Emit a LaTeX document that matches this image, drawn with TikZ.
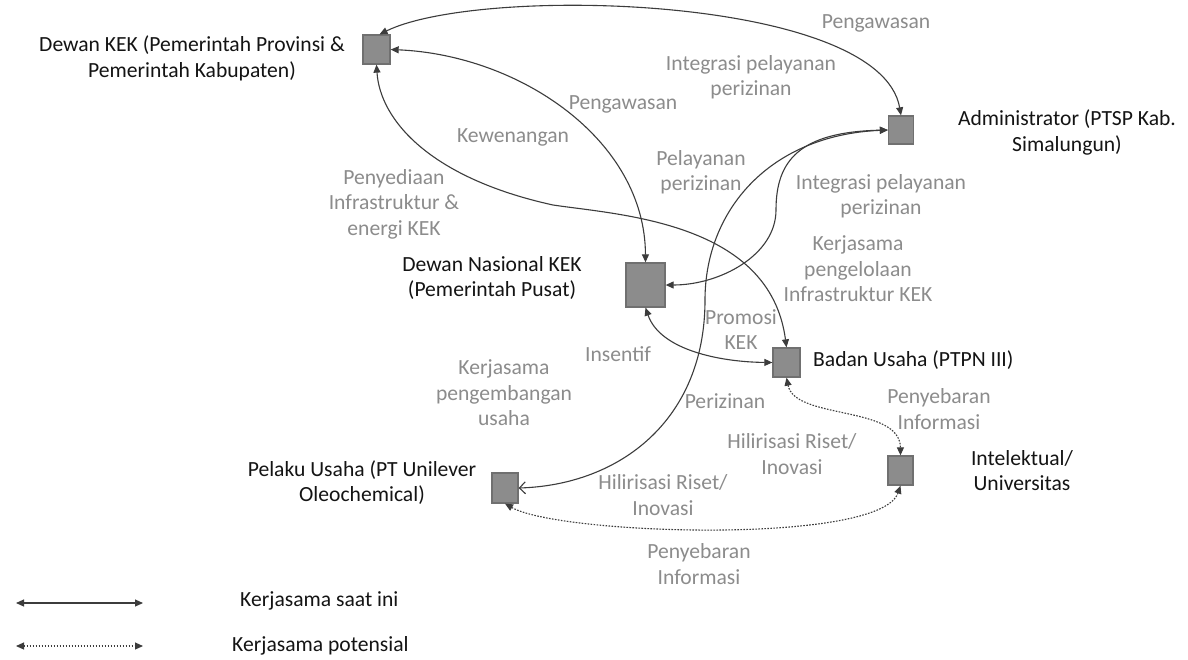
\documentclass[tikz,border=0pt]{standalone}
\usepackage{fontspec}
\setmainfont{Carlito}
\usetikzlibrary{arrows.meta}
\definecolor{boxfill}{RGB}{140,140,140}
\definecolor{boxline}{RGB}{112,112,112}
\definecolor{lbl}{RGB}{140,140,140}
\definecolor{txt}{RGB}{20,20,20}
\definecolor{conn}{RGB}{60,60,60}
\begin{document}
\begin{tikzpicture}[x=1pt,y=-1pt,
  sq/.style={draw=boxline,fill=boxfill,line width=1.3pt,inner sep=0pt},
  lab/.style={text=lbl,align=center,inner sep=0pt,font=\fontsize{21.6pt}{25.5pt}\selectfont},
  ent/.style={text=txt,align=center,inner sep=0pt,font=\fontsize{21.6pt}{25.5pt}\selectfont},
  rel/.style={draw=conn,line width=1.1pt,{Triangle[length=8pt,width=7pt]}-{Triangle[length=8pt,width=7pt]}},
  pot/.style={draw=conn,line width=1.1pt,dash pattern=on 1.6pt off 1.4pt,{Triangle[length=8pt,width=7pt]}-{Triangle[length=8pt,width=7pt]}}
]
\useasboundingbox (0,0) rectangle (1188,659);
\fill[white] (0,0) rectangle (1188,659);

% squares
\node[sq,minimum width=27pt,minimum height=29pt] (dk) at (376.5,49.5) {};
\node[sq,minimum width=25pt,minimum height=28pt] (adm) at (901,130) {};
\node[sq,minimum width=39pt,minimum height=44pt] (dn) at (645.5,285) {};
\node[sq,minimum width=27pt,minimum height=29pt] (bu) at (786.5,362.5) {};
\node[sq,minimum width=25pt,minimum height=29pt] (iu) at (900.5,470.5) {};
\node[sq,minimum width=26pt,minimum height=30pt] (pu) at (505,488) {};

% entity texts
\node[ent] (tdk) at (192,58.5) {Dewan KEK (Pemerintah Provinsi \&\\Pemerintah Kabupaten)};
\node[ent] (tadm) at (1067,132.5) {Administrator (PTSP Kab.\\Simalungun)};
\node[ent] (tdn) at (492,278) {Dewan Nasional KEK\\(Pemerintah Pusat)};
\node[ent,anchor=west] (tbu) at (813,360) {Badan Usaha (PTPN III)};
\node[ent] (tiu) at (1022,470.5) {Intelektual/\\Universitas};
\node[ent] (tpu) at (362,482.5) {Pelaku Usaha (PT Unilever\\Oleochemical)};

% gray labels
\node[lab] (l1) at (876,23) {Pengawasan};
\node[lab] (l2) at (751,77) {Integrasi pelayanan\\perizinan};
\node[lab] (l3) at (623,104) {Pengawasan};
\node[lab] (l4) at (513,137) {Kewenangan};
\node[lab] (l5) at (701,172) {Pelayanan\\perizinan};
\node[lab] (l6) at (881,196) {Integrasi pelayanan\\perizinan};
\node[lab] (l7) at (394,204) {Penyediaan\\Infrastruktur \&\\energi KEK};
\node[lab] (l8) at (858,269) {Kerjasama\\pengelolaan\\Infrastruktur KEK};
\node[lab] (l9) at (741,329.5) {Promosi\\KEK};
\node[lab] (l10) at (618,354) {Insentif};
\node[lab] (l11) at (504,393) {Kerjasama\\pengembangan\\usaha};
\node[lab] (l12) at (725,401) {Perizinan};
\node[lab] (l13) at (939,409) {Penyebaran\\Informasi};
\node[lab] (l14) at (792,454) {Hilirisasi Riset/\\Inovasi};
\node[lab] (l15) at (663,495) {Hilirisasi Riset/\\Inovasi};
\node[lab] (l16) at (699,564) {Penyebaran\\Informasi};

% connectors
\draw[rel] ([xshift=3pt]dk.north) .. controls (480,-15) and (880,-5) .. (adm.north);
\draw[rel] (dk.east) .. controls (520,55) and (645,140) .. (dn.north);
\draw[rel] (dk.south) .. controls (380,120) and (430,178) .. (553,205)
  .. controls (620,215) and (770,222) .. (bu.north);
\draw[rel] (adm.west) .. controls (800,132) and (776,160) .. (776,210)
  .. controls (776,255) and (720,285) .. (dn.east);
\draw[draw=conn,line width=1.1pt,{Straight Barb[length=6pt,width=12pt]}-{Triangle[length=8pt,width=7pt]}]
  (pu.east) .. controls (620,485) and (705,420) .. (705,300)
  .. controls (705,210) and (770,135) .. (adm.west);
\draw[rel] (dn.south) .. controls (660,350) and (720,362) .. (bu.west);
\draw[pot] (bu.south) .. controls (795,420) and (900,405) .. (iu.north);
\draw[pot] (pu.south) .. controls (560,535) and (880,545) .. (iu.south);

% legend
\coordinate (a1) at (16,603);
\coordinate (a2) at (143,603);
\coordinate (b1) at (16,646);
\coordinate (b2) at (143,646);
\draw[rel] (a1) -- (a2);
\draw[pot] (b1) -- (b2);
\node[ent,anchor=west] (la) at (240,601) {Kerjasama saat ini};
\node[ent,anchor=west] (lb) at (232,646) {Kerjasama potensial};
\end{tikzpicture}
\end{document}
